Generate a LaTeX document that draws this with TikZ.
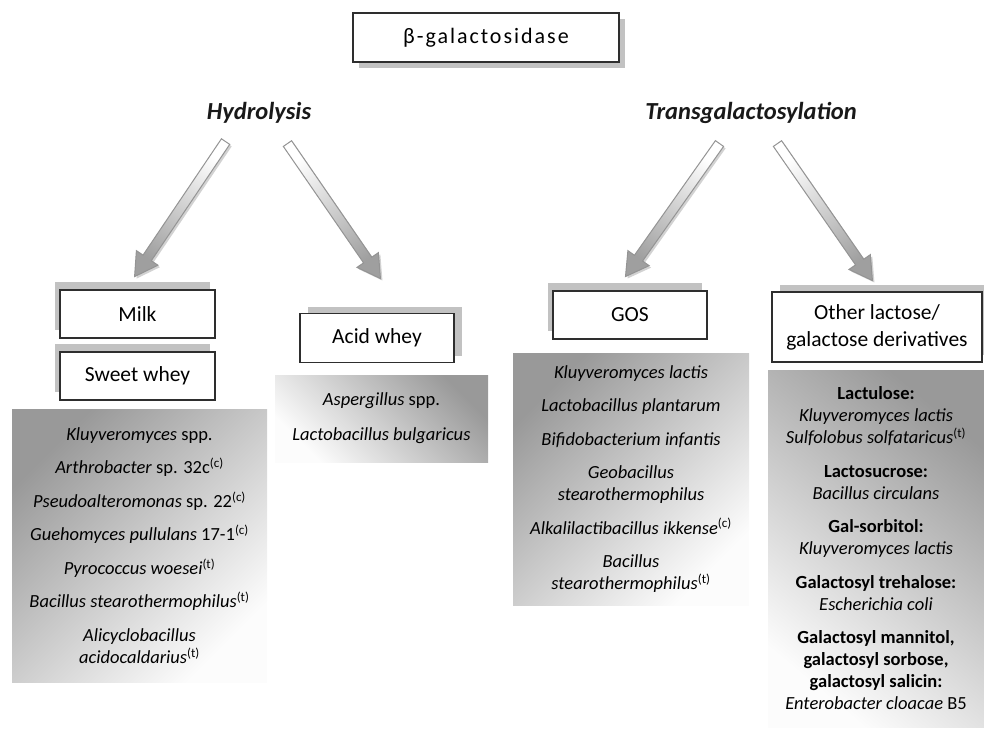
\documentclass[tikz,border=0pt]{standalone}
\usepackage{fontspec}
\setmainfont{Carlito}
\usetikzlibrary{calc,shapes.arrows,shadows}
\definecolor{shadowgray}{gray}{0.76}
\definecolor{gdark}{gray}{0.60}
\definecolor{glight}{gray}{0.99}
\definecolor{boxline}{gray}{0.18}
\definecolor{arrline}{gray}{0.58}
\newcommand{\fatarrow}[3]{\path let \p1=($(#2)-(#1)$), \n1={atan2(\y1,\x1)}, \n2={veclen(\x1,\y1)}, \n3={atan2(\y1,\x1)+90} in node[fatarr, top color=white, bottom color=gray!75, shading angle=\n3, minimum height=\n2, rotate=\n1] (#3) at ($(#1)!0.5!(#2)$) {};}
\begin{document}
\begin{tikzpicture}[x=1pt,y=-1pt,
  catbox/.style={draw=boxline, line width=1.5pt, fill=white, inner sep=0pt, align=center,
    font=\fontsize{21.5}{27}\selectfont},
  ulshadow/.style={general shadow={fill=shadowgray, shadow xshift=-5pt, shadow yshift=8pt}},
  urshadow/.style={general shadow={fill=shadowgray, shadow xshift=8pt, shadow yshift=7pt}},
  drshadow/.style={general shadow={fill=shadowgray, shadow xshift=6pt, shadow yshift=-6pt}},
  listbox/.style={inner sep=0pt, align=center, font=\fontsize{18.5}{22}\selectfont},
  procname/.style={font=\fontsize{24.5}{28}\selectfont\bfseries\itshape, inner sep=0pt, text=black!90},
  fatarr/.style={single arrow, draw=arrline, line width=1pt, inner xsep=0pt, inner ysep=4.5pt,
    single arrow head extend=8pt, single arrow tip angle=60, single arrow head indent=0pt,
    general shadow={fill=gray!35, shadow xshift=2pt, shadow yshift=-2pt}}
]
\useasboundingbox (0,0) rectangle (984,735);

% top enzyme box
\node[catbox, drshadow, minimum width=266pt, minimum height=49pt,
  font=\fontsize{22}{26}\selectfont] (enz) at (486,37.5) {\addfontfeature{LetterSpace=9}β-galactosidase};

% process labels
\node[procname] (hyd) at (259,113) {Hydrolysis};
\node[procname] (tr) at (751,113) {Transgalactosylation};

% arrows
\coordinate (a1s) at (228,138); \coordinate (a1e) at (137,273);
\coordinate (a2s) at (285,140); \coordinate (a2e) at (378,275);
\coordinate (a3s) at (722,140); \coordinate (a3e) at (628,273);
\coordinate (a4s) at (775,140); \coordinate (a4e) at (870,277);
\fatarrow{a1s}{a1e}{arr1}
\fatarrow{a2s}{a2e}{arr2}
\fatarrow{a3s}{a3e}{arr3}
\fatarrow{a4s}{a4e}{arr4}

% category boxes
\node[catbox, ulshadow, minimum width=155pt, minimum height=48pt] (milk) at (137.5,314) {Milk};
\node[catbox, ulshadow, minimum width=155pt, minimum height=48pt] (sweet) at (137.5,376) {Sweet whey};
\node[catbox, urshadow, minimum width=154pt, minimum height=49pt] (acid) at (377,338) {Acid whey};
\node[catbox, ulshadow, minimum width=154pt, minimum height=48pt] (gos) at (630,315) {GOS};
\node[catbox, urshadow, minimum width=210pt, minimum height=70pt] (other) at (877,327)
  {Other lactose/\\galactose derivatives};

% organism lists
\node[listbox, top color=gdark, bottom color=glight, shading angle=45,
  minimum width=255pt, minimum height=273pt] (sweetlist) at (139.5,545.5)
  {\textit{Kluyveromyces} spp.\\[11.5pt]
   \textit{Arthrobacter} sp. 32c\textsuperscript{(c)}\\[11.5pt]
   \textit{Pseudoalteromonas} sp. 22\textsuperscript{(c)}\\[11.5pt]
   \textit{Guehomyces pullulans} 17-1\textsuperscript{(c)}\\[11.5pt]
   \textit{Pyrococcus woesei}\textsuperscript{(t)}\\[11.5pt]
   \textit{Bacillus stearothermophilus}\textsuperscript{(t)}\\[11.5pt]
   \textit{Alicyclobacillus}\\
   \textit{acidocaldarius}\textsuperscript{(t)}};

\node[listbox, top color=gdark, bottom color=glight, shading angle=-45,
  minimum width=213pt, minimum height=87pt] (acidlist) at (381.5,418.5)
  {\textit{Aspergillus} spp.\\[13pt]
   \textit{Lactobacillus bulgaricus}};

\node[listbox, top color=gdark, bottom color=glight, shading angle=45,
  minimum width=236pt, minimum height=252pt] (goslist) at (631,479)
  {\textit{Kluyveromyces lactis}\\[11.5pt]
   \textit{Lactobacillus plantarum}\\[11.5pt]
   \textit{Bifidobacterium infantis}\\[11.5pt]
   \textit{Geobacillus}\\
   \textit{stearothermophilus}\\[11.5pt]
   \textit{Alkalilactibacillus ikkense}\textsuperscript{(c)}\\[11.5pt]
   \textit{Bacillus}\\
   \textit{stearothermophilus}\textsuperscript{(t)}};

\node[listbox, top color=gdark, bottom color=glight, shading angle=-40,
  minimum width=216pt, minimum height=357pt] (otherlist) at (876,548.5)
  {\textbf{Lactulose:}\\
   \textit{Kluyveromyces lactis}\\
   \textit{Sulfolobus solfataricus}\textsuperscript{(t)}\\[11.5pt]
   \textbf{Lactosucrose:}\\
   \textit{Bacillus circulans}\\[11.5pt]
   \textbf{Gal-sorbitol:}\\
   \textit{Kluyveromyces lactis}\\[11.5pt]
   \textbf{Galactosyl trehalose:}\\
   \textit{Escherichia coli}\\[11.5pt]
   \textbf{Galactosyl mannitol,}\\
   \textbf{galactosyl sorbose,}\\
   \textbf{galactosyl salicin:}\\
   \textit{Enterobacter cloacae} B5};
\end{tikzpicture}
\end{document}
